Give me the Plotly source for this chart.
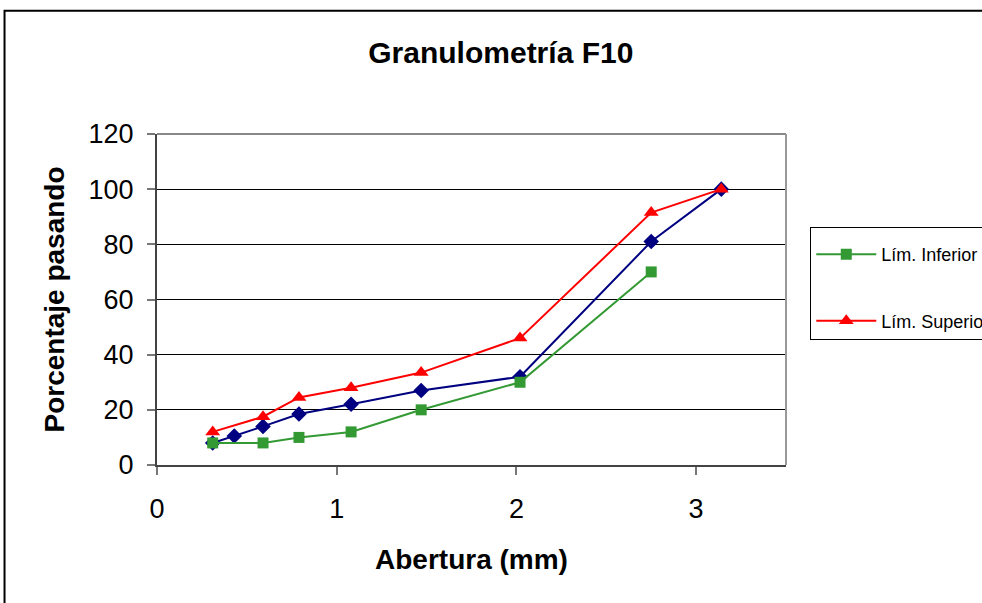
import plotly.graph_objects as go

# Abertura (mm) axis values
x_blue = [0.31, 0.43, 0.59, 0.79, 1.08, 1.47, 2.02, 2.75, 3.14]
y_blue = [8, 10.5, 14, 18.5, 22, 27, 32, 81, 100]

x_inf = [0.31, 0.59, 0.79, 1.08, 1.47, 2.02, 2.75]
y_inf = [8, 8, 10, 12, 20, 30, 70]

x_sup = [0.31, 0.59, 0.79, 1.08, 1.47, 2.02, 2.75, 3.14]
y_sup = [12, 17.5, 24.5, 28, 33.5, 46, 91.5, 100]

x_ticks = [0, 1, 2, 3]
y_ticks = [0, 20, 40, 60, 80, 100, 120]

FONT = "Liberation Sans, Arial, sans-serif"

fig = go.Figure()
fig.add_trace(go.Scatter(
    x=x_blue, y=y_blue, mode="lines+markers", name="F10", showlegend=False,
    line=dict(color="#000080", width=2),
    marker=dict(symbol="diamond", size=12, color="#000080"),
))
fig.add_trace(go.Scatter(
    x=x_inf, y=y_inf, mode="lines+markers", name="Lím. Inferior", legendgroup="a",
    line=dict(color="#339933", width=2),
    marker=dict(symbol="square", size=11, color="#339933"),
))
fig.add_trace(go.Scatter(
    x=x_sup, y=y_sup, mode="lines+markers", name="Lím. Superior", legendgroup="b",
    line=dict(color="#FF0000", width=2),
    marker=dict(symbol="triangle-up", size=13, color="#FF0000"),
))

fig.update_layout(
    width=982, height=603,
    margin=dict(l=157, r=196, t=134, b=138, autoexpand=False),
    paper_bgcolor="white", plot_bgcolor="white",
    font=dict(family=FONT, color="black"),
    title=dict(text="<b>Granulometría F10</b>", x=0.510, xref="container", xanchor="center",
               y=1 - 52 / 603, yref="container", yanchor="middle",
               font=dict(size=30, family=FONT, color="black")),
    xaxis=dict(
        range=[0, 3.5], tickvals=x_ticks, ticktext=[str(v) for v in x_ticks],
        showgrid=False, zeroline=False,
        showline=True, linecolor="#444444", linewidth=2,
        ticks="outside", ticklen=8, tickwidth=2, tickcolor="#777777",
        tickfont=dict(size=27, family=FONT, color="black"),
        ticklabelstandoff=11,
        title=dict(text="<b>Abertura (mm)</b>", font=dict(size=28, family=FONT, color="black"),
                   standoff=26),
    ),
    yaxis=dict(
        range=[0, 120], tickvals=y_ticks, ticktext=[str(v) for v in y_ticks],
        showgrid=True, gridcolor="black", gridwidth=1, zeroline=False,
        showline=True, linecolor="#444444", linewidth=2,
        ticks="outside", ticklen=8, tickwidth=2, tickcolor="#777777",
        tickfont=dict(size=27, family=FONT, color="black"),
        ticklabelstandoff=8,
        title=dict(text="<b>Porcentaje pasando</b>", font=dict(size=28, family=FONT, color="black"),
                   standoff=16),
    ),
    legend=dict(
        x=1.0386, y=0.718, xanchor="left", yanchor="top",
        bgcolor="white", bordercolor="black", borderwidth=1,
        font=dict(size=18, family=FONT, color="black"),
        tracegroupgap=40, itemwidth=60,
        title=dict(text=" ", font=dict(size=6)),
    ),
    shapes=[
        # plot-area border (top and right in grey)
        dict(type="line", xref="paper", yref="paper", x0=0, x1=1, y0=1, y1=1,
             line=dict(color="#888888", width=2)),
        dict(type="line", xref="paper", yref="paper", x0=1, x1=1, y0=0, y1=1,
             line=dict(color="#999999", width=2)),
        # outer chart border
        dict(type="rect", xref="paper", yref="paper", x0=-0.2424, x1=1.34, y0=-0.47, y1=1.372,
             line=dict(color="black", width=2), layer="below"),
    ],
)

fig.write_html("out.html")
